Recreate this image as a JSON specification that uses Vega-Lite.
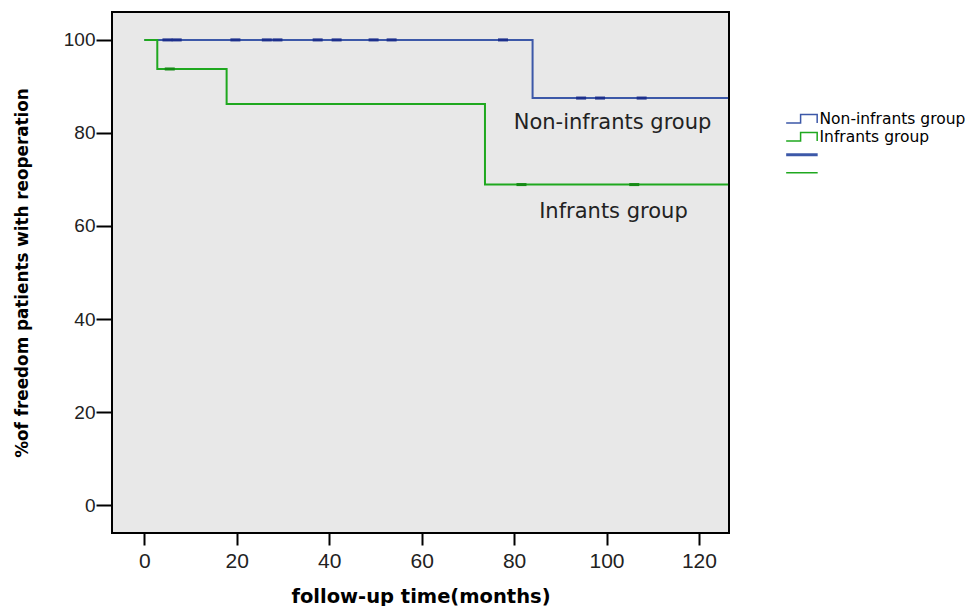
{
  "$schema": "https://vega.github.io/schema/vega-lite/v6.json",
  "width": 617,
  "height": 521,
  "autosize": "none",
  "padding": {"left": 112, "top": 12, "right": 236, "bottom": 73},
  "background": "white",
  "config": {
    "view": {"stroke": "black", "strokeWidth": 2, "fill": "#e8e8e8"},
    "font": "Liberation Sans"
  },
  "datasets": {
    "curves": [
      {"group": "Non-infrants group", "time": 0, "pct": 100},
      {"group": "Non-infrants group", "time": 84, "pct": 87.5},
      {"group": "Non-infrants group", "time": 126.3, "pct": 87.5},
      {"group": "Infrants group", "time": 0, "pct": 100},
      {"group": "Infrants group", "time": 2.8, "pct": 93.75},
      {"group": "Infrants group", "time": 17.8, "pct": 86.2},
      {"group": "Infrants group", "time": 73.7, "pct": 68.9},
      {"group": "Infrants group", "time": 126.3, "pct": 68.9}
    ],
    "censor": [
      {"group": "Non-infrants group", "time": 5, "pct": 100},
      {"group": "Non-infrants group", "time": 7, "pct": 100},
      {"group": "Non-infrants group", "time": 19.7, "pct": 100},
      {"group": "Non-infrants group", "time": 26.5, "pct": 100},
      {"group": "Non-infrants group", "time": 28.8, "pct": 100},
      {"group": "Non-infrants group", "time": 37.5, "pct": 100},
      {"group": "Non-infrants group", "time": 41.6, "pct": 100},
      {"group": "Non-infrants group", "time": 49.6, "pct": 100},
      {"group": "Non-infrants group", "time": 53.5, "pct": 100},
      {"group": "Non-infrants group", "time": 77.6, "pct": 100},
      {"group": "Non-infrants group", "time": 94.5, "pct": 87.5},
      {"group": "Non-infrants group", "time": 98.6, "pct": 87.5},
      {"group": "Non-infrants group", "time": 107.6, "pct": 87.5},
      {"group": "Infrants group", "time": 5.5, "pct": 93.75},
      {"group": "Infrants group", "time": 81.6, "pct": 68.9},
      {"group": "Infrants group", "time": 106, "pct": 68.9}
    ],
    "labels": [
      {"label": "Non-infrants group", "time": 101.3, "pct": 82.2},
      {"label": "Infrants group", "time": 101.5, "pct": 63.0}
    ]
  },
  "encoding": {
    "x": {
      "field": "time", "type": "quantitative",
      "scale": {"domain": [-7, 126.5], "nice": false, "zero": false},
      "axis": {
        "title": "follow-up time(months)",
        "values": [0, 20, 40, 60, 80, 100, 120],
        "grid": false, "domain": false,
        "tickColor": "black", "tickSize": 12, "tickWidth": 2,
        "labelFontSize": 21, "labelColor": "#222", "labelPadding": 5,
        "titleFont": "DejaVu Sans", "titleFontSize": 19.5, "titleFontWeight": "bold", "titleColor": "black",
        "titlePadding": 16
      }
    },
    "y": {
      "field": "pct", "type": "quantitative",
      "scale": {"domain": [-6, 106], "nice": false, "zero": false},
      "axis": {
        "title": "%of freedom patients with reoperation",
        "values": [0, 20, 40, 60, 80, 100],
        "grid": false, "domain": false,
        "tickColor": "black", "tickSize": 16, "tickWidth": 2,
        "labelFontSize": 19, "labelColor": "#222", "labelPadding": 1,
        "titleFont": "DejaVu Sans", "titleFontSize": 16.8, "titleFontWeight": "bold", "titleColor": "black",
        "titlePadding": 32
      }
    }
  },
  "layer": [
    {
      "data": {"name": "curves"},
      "mark": {"type": "line", "interpolate": "step-after", "strokeWidth": 2},
      "encoding": {
        "color": {
          "field": "group", "type": "nominal",
          "scale": {
            "domain": ["Non-infrants group", "Infrants group", "c1", "c2"],
            "range": ["#3c58a8", "#1fa81f", "#3c58a8", "#1fa81f"]
          },
          "legend": {
            "orient": "none", "legendX": 683, "legendY": 99,
            "padding": 0,
            "title": null,
            "labelExpr": "datum.index >= 2 ? '' : datum.label",
            "labelFont": "DejaVu Sans", "labelFontSize": 15.5, "labelColor": "black",
            "labelOffset": 9,
            "symbolSize": 1000, "symbolStrokeWidth": 1.5,
            "rowPadding": 1,
            "encode": {
              "symbols": {
                "update": {
                  "shape": {"signal": "datum.index < 2 ? 'M-1,0.25L-0.13,0.25L-0.13,-0.25L0.87,-0.25L0.87,0.25' : 'M-1,0L0.9,0'"},
                  "size": {"value": 1100},
                  "fill": {"value": "transparent"},
                  "strokeWidth": {"signal": "datum.index == 2 ? 3 : 1.5"}
                }
              }
            }
          }
        }
      }
    },
    {
      "data": {"name": "censor"},
      "mark": {"type": "point", "shape": "M-1,0L1,0", "filled": false, "size": 100, "strokeWidth": 3, "opacity": 1},
      "encoding": {
        "stroke": {
          "condition": {"test": "datum.group === 'Non-infrants group'", "value": "#1c2f8c"},
          "value": "#158a15"
        }
      }
    },
    {
      "data": {"name": "labels"},
      "mark": {"type": "text", "fontSize": 21, "font": "DejaVu Sans", "color": "#222", "align": "center", "baseline": "middle"},
      "encoding": {"text": {"field": "label"}}
    }
  ]
}
